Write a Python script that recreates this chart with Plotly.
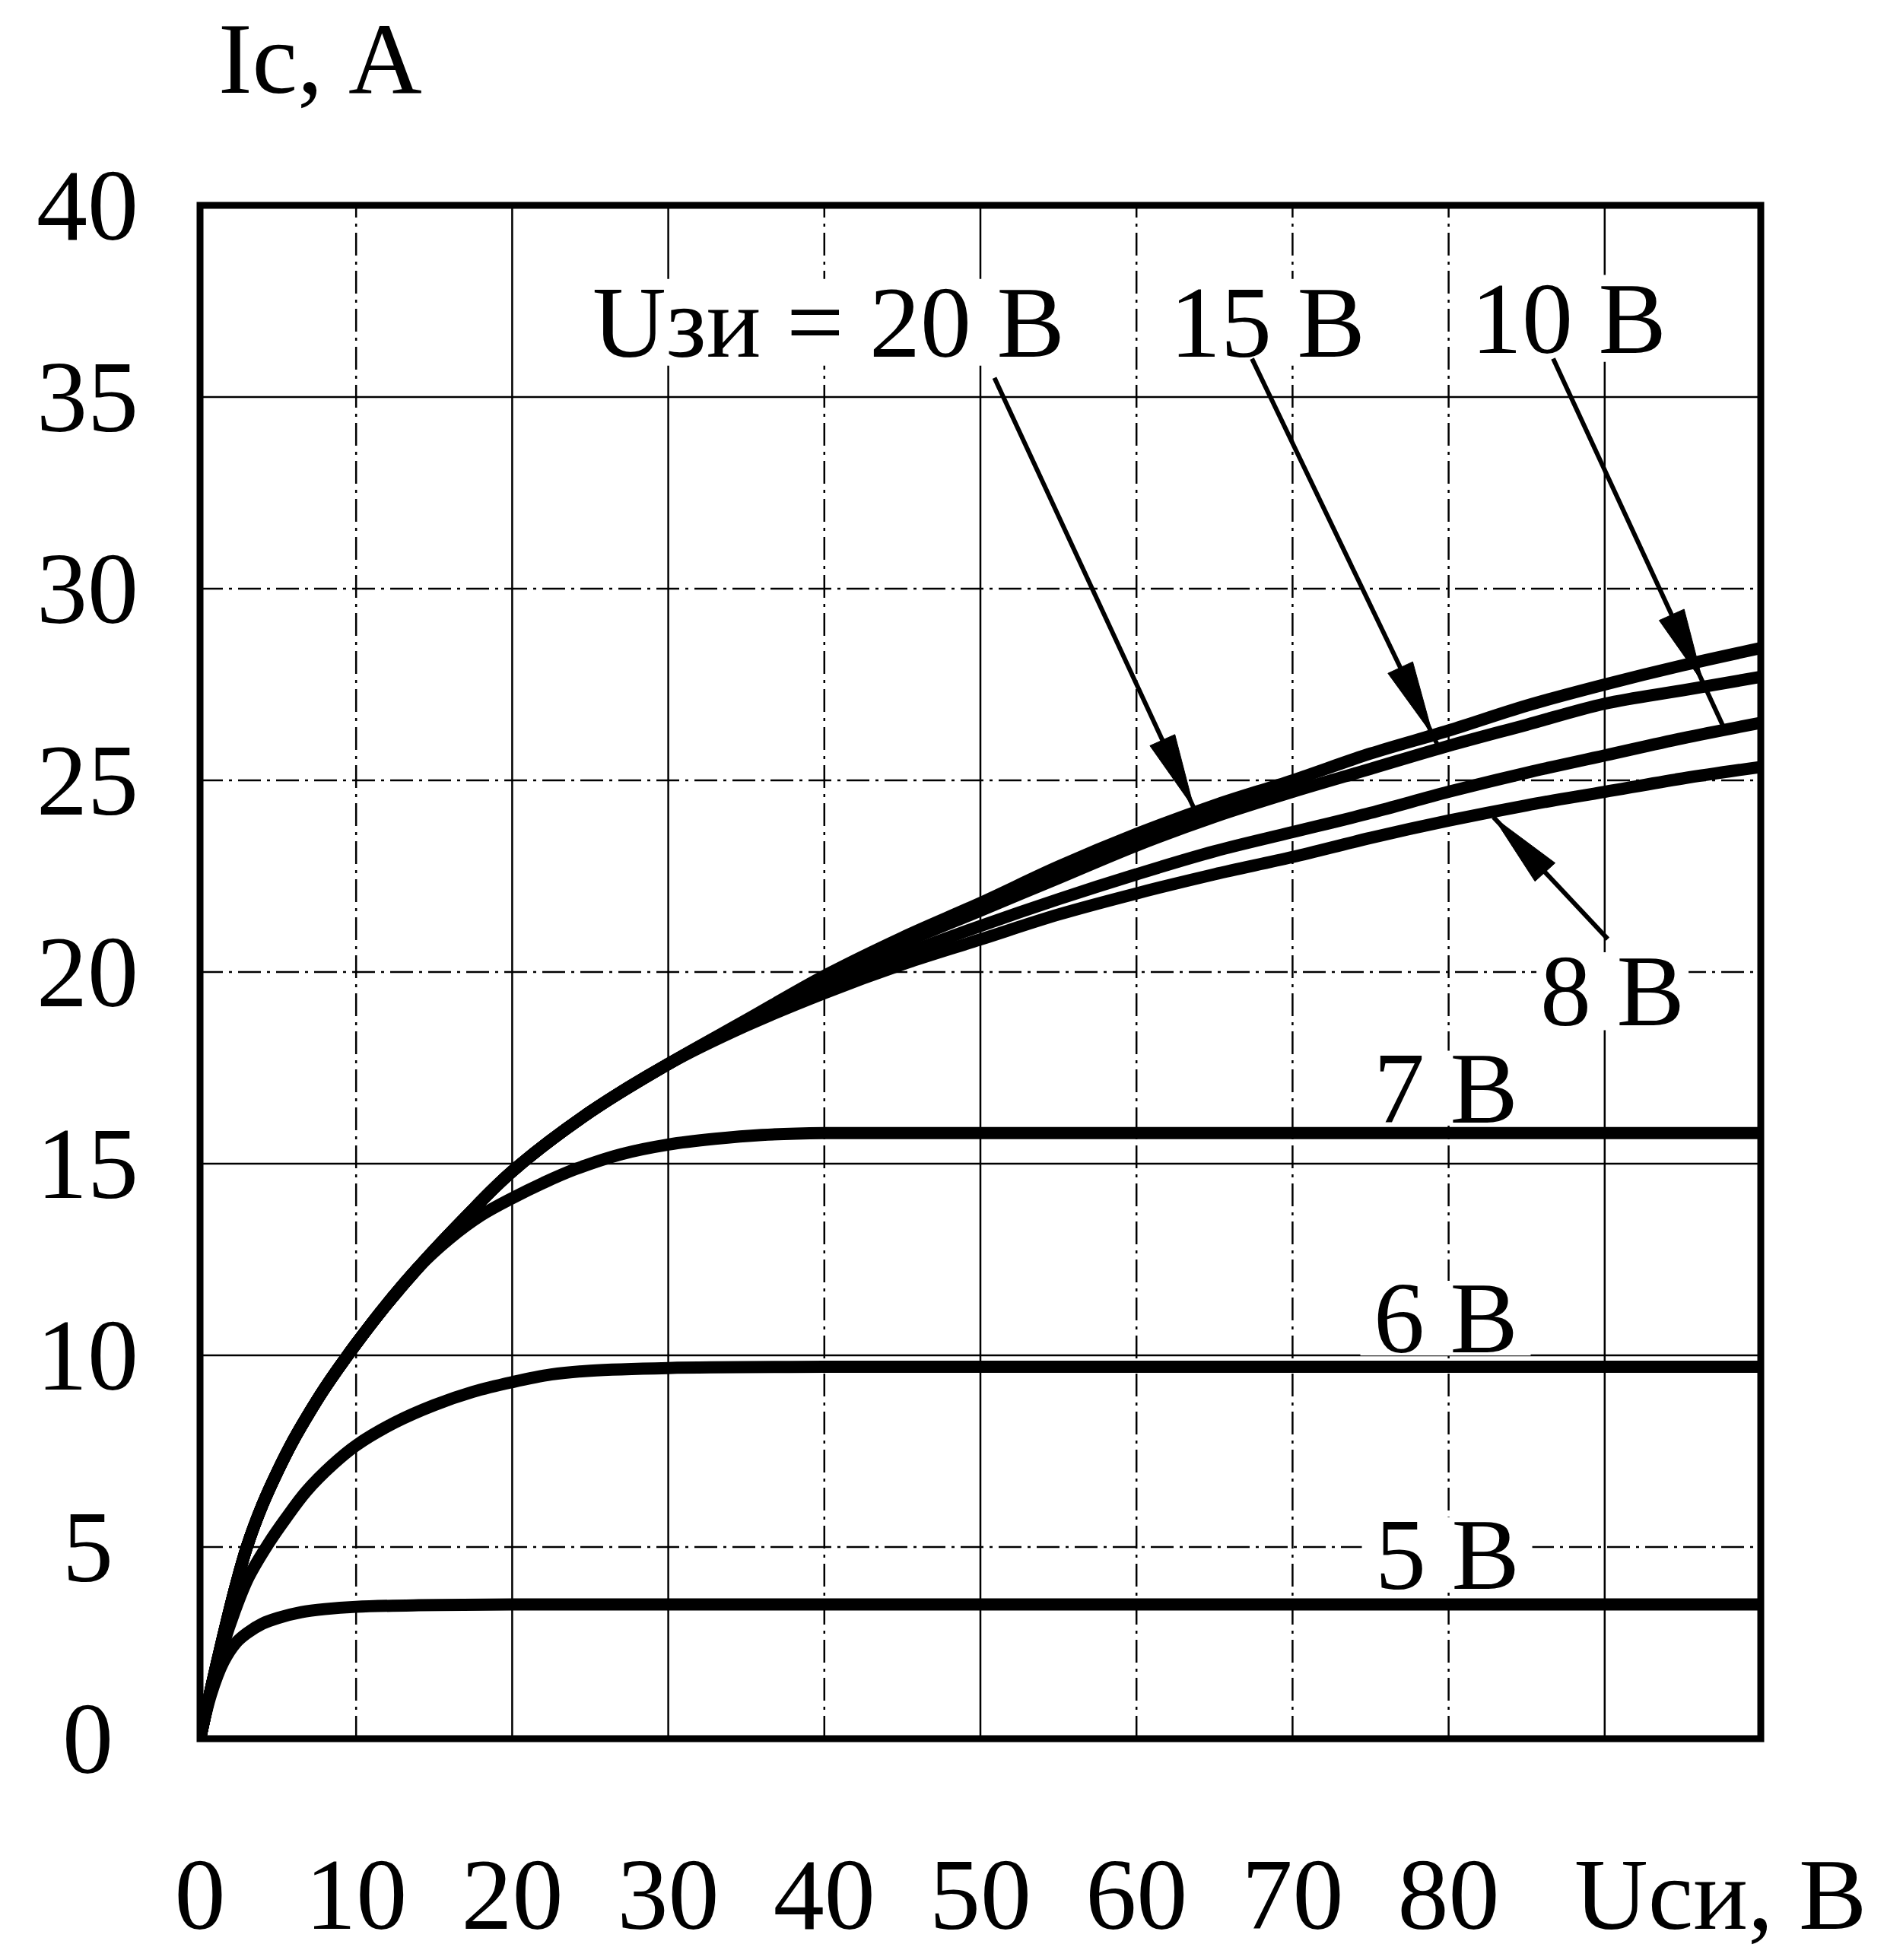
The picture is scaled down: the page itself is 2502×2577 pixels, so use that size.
import numpy as np
import plotly.graph_objects as go

# Output characteristics of the MOSFET: drain current Ic (A) vs drain-source voltage Uси (V)
# for several gate-source voltages Uзи.
u_20v = [0, 0.7, 1.5, 2.2, 3, 4, 5, 6, 7, 8, 10, 12, 14, 17, 20, 25, 30, 35, 40,
         45, 50, 55, 60, 65, 70, 75, 80, 85, 90, 95, 100]
i_20v = [0, 1.3, 2.7, 3.85, 5.0, 6.1, 7.0, 7.8, 8.5, 9.15, 10.3, 11.35, 12.3, 13.6, 14.8, 16.35, 17.6, 18.75, 19.9,
         20.9, 21.8, 22.75, 23.6, 24.35, 25.0, 25.7, 26.3, 26.95, 27.5, 28.0, 28.45]

u_15v = [0, 0.7, 1.5, 2.2, 3, 4, 5, 6, 7, 8, 10, 12, 14, 17, 20, 25, 30, 35, 40,
         45, 50, 55, 60, 65, 70, 75, 80, 85, 90, 95, 100]
i_15v = [0, 1.3, 2.7, 3.85, 5.0, 6.1, 7.0, 7.8, 8.5, 9.15, 10.3, 11.35, 12.3, 13.6, 14.8, 16.35, 17.6, 18.72, 19.8,
         20.75, 21.6, 22.45, 23.3, 24.05, 24.7, 25.3, 25.9, 26.45, 27.0, 27.35, 27.7]

u_10v = [0, 0.7, 1.5, 2.2, 3, 4, 5, 6, 7, 8, 10, 12, 14, 17, 20, 25, 30, 35, 40,
         45, 50, 55, 60, 65, 70, 75, 80, 85, 90, 95, 100]
i_10v = [0, 1.3, 2.7, 3.85, 5.0, 6.1, 7.0, 7.8, 8.5, 9.15, 10.3, 11.35, 12.3, 13.6, 14.8, 16.35, 17.6, 18.68, 19.65,
         20.45, 21.2, 21.9, 22.55, 23.15, 23.65, 24.15, 24.7, 25.2, 25.65, 26.1, 26.5]

u_8v = [0, 0.7, 1.5, 2.2, 3, 4, 5, 6, 7, 8, 10, 12, 14, 17, 20, 25, 30, 35, 40,
        45, 50, 55, 60, 65, 70, 75, 80, 85, 90, 95, 100]
i_8v = [0, 1.3, 2.7, 3.85, 5.0, 6.1, 7.0, 7.8, 8.5, 9.15, 10.3, 11.35, 12.3, 13.6, 14.8, 16.35, 17.6, 18.6, 19.45,
        20.2, 20.85, 21.5, 22.05, 22.55, 23.0, 23.5, 23.95, 24.35, 24.7, 25.05, 25.35]

u_7v = [0, 0.7, 1.5, 2.2, 3, 4, 5, 6, 7, 8, 10, 12, 14, 16, 18, 20, 22, 24, 27, 30, 33, 36, 40, 100]
i_7v = [0, 1.3, 2.7, 3.85, 5.0, 6.1, 7.0, 7.8, 8.5, 9.15, 10.3, 11.35, 12.3, 13.05, 13.65, 14.1, 14.5, 14.85,
        15.25, 15.5, 15.65, 15.75, 15.8, 15.8]

u_6v = [0, 0.7, 1.5, 2.2, 3.1, 4.4, 5.5, 6.8, 8.5, 10, 12.5, 15, 17.5, 20, 22.5, 25, 30, 40, 100]
i_6v = [0, 1.25, 2.45, 3.3, 4.2, 5.1, 5.75, 6.45, 7.15, 7.65, 8.25, 8.7, 9.05, 9.3, 9.5, 9.6, 9.67, 9.7, 9.7]

u_5v = [0, 0.7, 1.5, 2.3, 3, 4, 5, 6.5, 8, 10, 14, 20, 100]
i_5v = [0, 1.15, 2.0, 2.5, 2.75, 3.0, 3.15, 3.3, 3.38, 3.44, 3.48, 3.5, 3.5]

x_ticks = [0, 10, 20, 30, 40, 50, 60, 70, 80]
x_tick_text = ["0", "10", "20", "30", "40", "50", "60", "70", "80"]
y_ticks = [0, 5, 10, 15, 20, 25, 30, 35, 40]
y_tick_text = ["0", "5", "10", "15", "20", "25", "30", "35", "40"]
x_grid = [10, 20, 30, 40, 50, 60, 70, 80, 90]
y_grid = [5, 10, 15, 20, 25, 30, 35]

X_RANGE = [0, 100]
Y_RANGE = [0, 40]

# ---- page geometry ----
W, H = 2502, 2577
M_L, M_R, M_T, M_B = 263, 187, 270, 259
PLOT_W = W - M_L - M_R
PLOT_H = H - M_T - M_B
SX = PLOT_W / (X_RANGE[1] - X_RANGE[0])   # px per volt
SY = PLOT_H / (Y_RANGE[1] - Y_RANGE[0])   # px per ampere

FONT = "Liberation Serif"
FS = 134
CURVE_W = 16
ARROW_W = 6

fig = go.Figure()

curves = [
    (u_5v, i_5v), (u_6v, i_6v), (u_7v, i_7v),
    (u_8v, i_8v), (u_10v, i_10v), (u_15v, i_15v), (u_20v, i_20v),
]
for u, i in curves:
    fig.add_trace(go.Scatter(
        x=u, y=i, mode="lines",
        line=dict(color="black", width=CURVE_W, shape="spline", smoothing=1.0),
        showlegend=False, hoverinfo="skip",
    ))


def crossing(start, end, cu, ci, offset, from_above=True):
    """Point on the segment start->end where it first meets the curve (cu, ci) shifted by offset."""
    t = np.linspace(0.0, 1.0, 4001)
    xs = start[0] + t * (end[0] - start[0])
    ys = start[1] + t * (end[1] - start[1])
    ref = np.interp(xs, cu, ci) + offset
    diff = ys - ref if from_above else ref - ys
    idx = int(np.argmax(diff <= 0)) if np.any(diff <= 0) else len(t) - 1
    return float(xs[idx]), float(ys[idx])


def add_arrow(start, end, tip, head_len=100.0, head_half=18.0):
    # shaft
    fig.add_trace(go.Scatter(
        x=[start[0], end[0]], y=[start[1], end[1]], mode="lines",
        line=dict(color="black", width=ARROW_W), showlegend=False, hoverinfo="skip",
    ))
    # filled head, built in pixel space so it keeps its shape
    sx0, sy0 = start[0] * SX, start[1] * SY
    tx, ty = tip[0] * SX, tip[1] * SY
    d = np.array([tx - sx0, ty - sy0])
    d = d / np.linalg.norm(d)
    n = np.array([-d[1], d[0]])
    base = np.array([tx, ty]) - head_len * d
    p1 = base + head_half * n
    p2 = base - head_half * n
    fig.add_trace(go.Scatter(
        x=[tip[0], p1[0] / SX, p2[0] / SX, tip[0]],
        y=[tip[1], p1[1] / SY, p2[1] / SY, tip[1]],
        mode="lines", fill="toself", fillcolor="black",
        line=dict(color="black", width=1), showlegend=False, hoverinfo="skip",
    ))


# Uзи = 20 В: arrow ends on the 20 V curve
s20 = (50.9, 35.5)
e20 = crossing(s20, (63.8, float(np.interp(63.8, u_20v, i_20v))), u_20v, i_20v, 0.12)
add_arrow(s20, e20, e20)

# 15 В: head sits on the 20 V curve, shaft runs on to the 15 V curve
s15 = (67.4, 36.0)
end15 = (79.4, float(np.interp(79.4, u_15v, i_15v)))
tip15 = crossing(s15, end15, u_20v, i_20v, 0.0)
add_arrow(s15, end15, tip15)

# 10 В: head sits just above the 15 V curve, shaft runs on to the 10 V curve
s10 = (86.7, 36.0)
end10 = (97.7, float(np.interp(97.7, u_10v, i_10v)))
tip10 = crossing(s10, end10, u_15v, i_15v, 0.1)
add_arrow(s10, end10, tip10)

# 8 В: arrow comes from below onto the 8 V curve
s8 = (90.2, 20.86)
e8 = crossing(s8, (82.6, float(np.interp(82.6, u_8v, i_8v))), u_8v, i_8v, -0.14, from_above=False)
add_arrow(s8, e8, e8)

# ---- grid (drawn by hand so each line keeps its own stroke) ----
DASHDOT = "30px,8px,4px,8px"
x_grid_dash = {10: DASHDOT, 20: "solid", 30: "solid", 40: DASHDOT, 50: "solid",
               60: DASHDOT, 70: DASHDOT, 80: DASHDOT, 90: "solid"}
y_grid_dash = {5: DASHDOT, 10: "solid", 15: "solid", 20: DASHDOT, 25: DASHDOT,
               30: DASHDOT, 35: "solid"}
shapes = []
for xv in x_grid:
    shapes.append(dict(type="line", xref="x", yref="paper", x0=xv, x1=xv, y0=0, y1=1,
                       line=dict(color="black", width=2.5, dash=x_grid_dash[xv]), layer="below"))
for yv in y_grid:
    shapes.append(dict(type="line", xref="paper", yref="y", x0=0, x1=1, y0=yv, y1=yv,
                       line=dict(color="black", width=2.5, dash=y_grid_dash[yv]), layer="below"))

txt = dict(family=FONT, size=FS, color="black")
annotations = []

# curve labels: text, centre (V, A), half-width and half-height of the white patch behind it (px)
curve_labels = [
    ("Uзи = 20 В", 40.3, 36.95, 318, 58),
    ("15 В", 68.4, 36.95, 128, 58),
    ("10 В", 87.7, 37.05, 128, 58),
    ("8 В", 90.5, 19.5, 100, 52),
    ("7 В", 79.8, 16.97, 112, 50),
    ("6 В", 79.8, 10.97, 112, 50),
    ("5 В", 79.9, 4.8, 112, 50),
]
for t, xv, yv, hw, hh in curve_labels:
    # white patch hides the grid behind the text but stays under the curves
    shapes.append(dict(type="rect", xref="x", yref="y", layer="below",
                       x0=xv - hw / SX, x1=xv + hw / SX, y0=yv - hh / SY, y1=yv + hh / SY,
                       fillcolor="white", line=dict(width=0)))
    annotations.append(dict(x=xv, y=yv, xref="x", yref="y", text=t, showarrow=False,
                            xanchor="center", yanchor="middle", font=txt))

# frame
shapes.append(dict(type="rect", xref="paper", yref="paper", x0=0, x1=1, y0=0, y1=1,
                   line=dict(color="black", width=9), fillcolor="rgba(0,0,0,0)", layer="above"))

# y tick labels, centred in the left column
for yv, t in zip(y_ticks, y_tick_text):
    annotations.append(dict(x=(115 - M_L) / PLOT_W, xref="paper", y=yv, yref="y",
                            text=t, showarrow=False, xanchor="center", yanchor="middle",
                            font=txt))

# axis titles
annotations.append(dict(x=(421 - M_L) / PLOT_W, xref="paper", y=(H - M_B - 74) / PLOT_H, yref="paper",
                        text="Iс, А", showarrow=False, xanchor="center", yanchor="middle", font=txt))
annotations.append(dict(x=97.4, xref="x", y=-(2526 - (H - M_B)) / PLOT_H, yref="paper",
                        text="Uси, В", showarrow=False, xanchor="center", yanchor="middle", font=txt))

fig.update_layout(
    width=W, height=H, autosize=False,
    margin=dict(l=M_L, r=M_R, t=M_T, b=M_B, pad=0),
    paper_bgcolor="white", plot_bgcolor="white",
    shapes=shapes, annotations=annotations,
    xaxis=dict(range=X_RANGE, showgrid=False, zeroline=False, showline=False,
               tickmode="array", tickvals=x_ticks, ticktext=x_tick_text,
               ticks="", ticklabelstandoff=115, tickfont=txt),
    yaxis=dict(range=Y_RANGE, showgrid=False, zeroline=False, showline=False,
               showticklabels=False, ticks=""),
    showlegend=False,
)

fig.write_html("out.html")
